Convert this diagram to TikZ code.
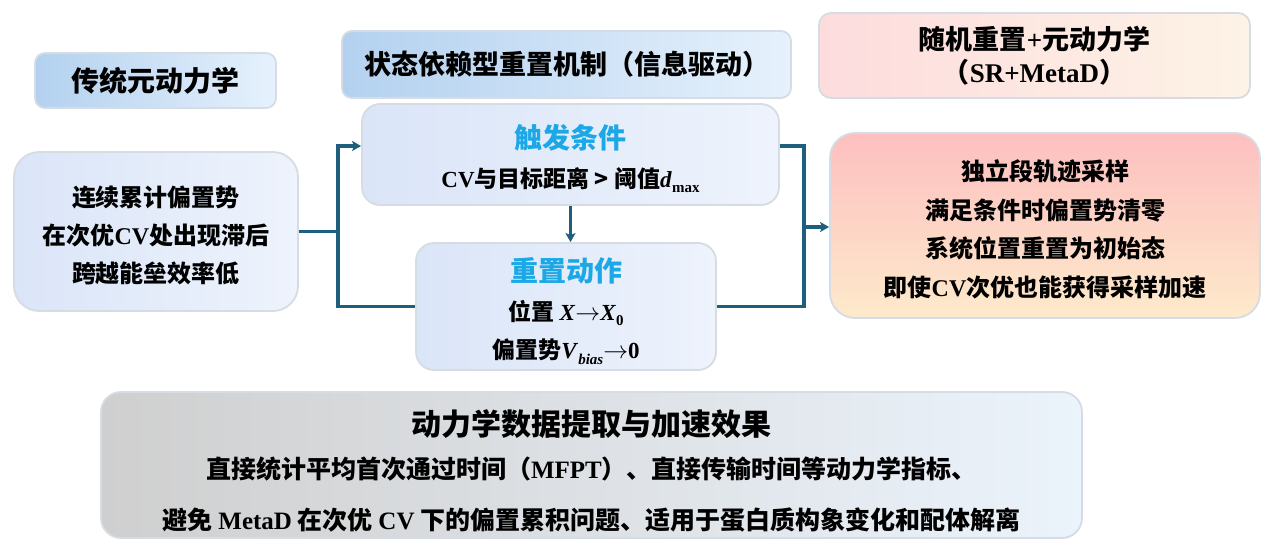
\documentclass[tikz,border=0pt]{standalone}
\usepackage{fontspec}
\setmainfont{Noto Sans CJK SC}
\newfontfamily\enf{Liberation Serif}
\newcommand\en[1]{{\enf #1}}
\usetikzlibrary{arrows.meta}
\definecolor{connc}{HTML}{1E5F7E}
\definecolor{hblue}{HTML}{1CA8E6}
\definecolor{bordc}{HTML}{D5DCE3}
\definecolor{tb1}{HTML}{B3D1EF}
\definecolor{tb2}{HTML}{E6F1FC}
\definecolor{lb1}{HTML}{DAE5F8}
\definecolor{lb2}{HTML}{EEF3FC}
\definecolor{pk1}{HTML}{FDDCDD}
\definecolor{pk2}{HTML}{FDF3E6}
\definecolor{rd1}{HTML}{FDBFC0}
\definecolor{rd2}{HTML}{FDEACB}
\definecolor{gy1}{HTML}{CFCFCF}
\definecolor{gy2}{HTML}{EBF3FB}
\begin{document}
\begin{tikzpicture}[x=1pt,y=-1pt,
 box/.style={draw=bordc,line width=1.8pt,rounded corners=#1,inner sep=0pt,align=center},
 txt/.style={inner sep=0pt,align=center},
 conn/.style={draw=connc,line width=3.3pt},
 tip/.style={-{Stealth[length=9pt,width=10pt,inset=2pt]}}]
\useasboundingbox (0,0) rectangle (1274,555);

% titles
\node[box=10pt,minimum width=241pt,minimum height=55pt,left color=tb1,right color=tb2,
  font=\bfseries\fontsize{28}{30}\selectfont] (t1) at (155.5,80.5) {传统元动力学};
\node[box=10pt,minimum width=449pt,minimum height=67pt,left color=tb1,right color=tb2,
  font=\bfseries\fontsize{27}{30}\selectfont] (t2) at (566.5,64.5) {状态依赖型重置机制（信息驱动）};
\node[box=12pt,minimum width=431pt,minimum height=85pt,left color=pk1,right color=pk2,
  font=\bfseries\fontsize{27}{33}\selectfont] (t3) at (1034.5,55.5) {随机重置\en{+}元动力学\\（\en{SR+MetaD}）};

% boxes
\node[box=25pt,minimum width=284pt,minimum height=159pt,left color=lb1,right color=lb2] (left) at (156,231.5) {};
\node[box=18pt,minimum width=417pt,minimum height=101pt,left color=lb1,right color=lb2] (trig) at (570.5,154.5) {};
\node[box=18pt,minimum width=300pt,minimum height=127pt,left color=lb1,right color=lb2] (reset) at (566,306.5) {};
\node[box=25pt,minimum width=430pt,minimum height=185pt,top color=rd1,bottom color=rd2] (right) at (1045,225.5) {};
\node[box=20pt,minimum width=981pt,minimum height=146pt,left color=gy1,right color=gy2] (bottom) at (591.5,465) {};

% texts
\node[txt,font=\bfseries\fontsize{24}{38}\selectfont] (leftT) at ([yshift=-4pt]left.center)
  {连续累计偏置势\\在次优\en{CV}处出现滞后\\跨越能垒效率低};
\node[txt,font=\bfseries\fontsize{23}{39}\selectfont] (trigT) at ([yshift=-3.5pt]trig.center)
  {{\color{hblue}\fontsize{28}{28}\selectfont 触发条件}\\
   \en{CV}与目标距离 > 阈值\en{\textit{d}\raisebox{-5pt}{\fontsize{15}{15}\selectfont max}}};
\node[txt,font=\bfseries\fontsize{23}{38.5}\selectfont] (resetT) at ([yshift=-5pt]reset.center)
  {{\color{hblue}\fontsize{28}{28}\selectfont 重置动作}\\
   位置 \en{\textit{X}$\rightarrow$\textit{X}\raisebox{-5pt}{\fontsize{15}{15}\selectfont 0}}\\
   偏置势\en{\textit{V}\raisebox{-6pt}{\fontsize{15}{15}\selectfont\textit{bias}}$\rightarrow$0}};
\node[txt,font=\bfseries\fontsize{24}{38.5}\selectfont] (rightT) at ([yshift=-4pt]right.center)
  {独立段轨迹采样\\满足条件时偏置势清零\\系统位置重置为初始态\\即使\en{CV}次优也能获得采样加速};
\node[txt,font=\bfseries\fontsize{25}{40}\selectfont] (bottomT) at ([yshift=-6pt]bottom.center)
  {{\fontsize{30}{30}\selectfont 动力学数据提取与加速效果}\\[3pt]
   直接统计平均首次通过时间（\en{MFPT}）、直接传输时间等动力学指标、\\[11pt]
   避免 \en{MetaD} 在次优 \en{CV} 下的偏置累积问题、适用于蛋白质构象变化和配体解离};

% connectors
\coordinate (jl) at (338,232);
\coordinate (rc) at (804,306.5);
\coordinate (jr) at (804,227);
\draw[conn] (left.east) -- (left.east -| jl);
\draw[conn,tip] (jl) |- ([yshift=8.5pt]trig.west);
\draw[conn] (jl) |- (reset.west);
\draw[conn] ([yshift=8.5pt]trig.east) -| (rc) -- (reset.east);
\draw[conn,tip] (jr) -- (right.west |- jr);
\draw[conn,tip] (trig.south) -- (trig.south |- reset.north);
\end{tikzpicture}
\end{document}
